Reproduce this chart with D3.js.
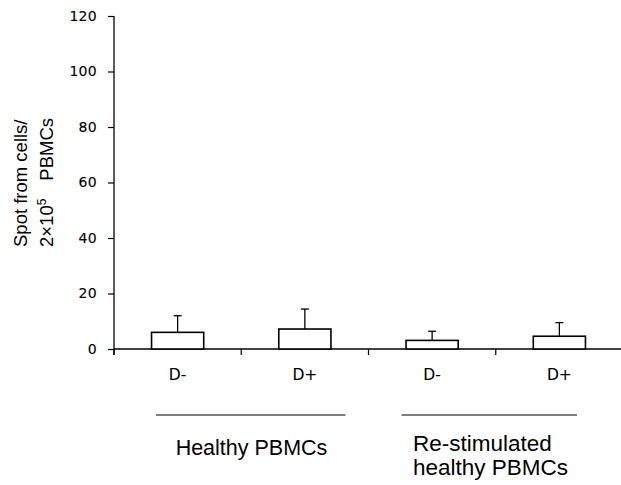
<!DOCTYPE html>
<html>
<head>
<meta charset="utf-8">
<script src="https://cdn.jsdelivr.net/npm/d3@7"></script>
<style>
  html, body { margin: 0; padding: 0; background: #fff; }
  svg { display: block; }
</style>
</head>
<body>
<svg id="chart" width="621" height="485"></svg>
<script>
const categories = ["D-", "D+", "D-", "D+"];
const means = [6.0, 7.2, 3.1, 4.6];
const errors = [6.0, 7.2, 3.3, 4.9];
const groups = ["Healthy PBMCs", "Re-stimulated healthy PBMCs"];
const yTicks = [0, 20, 40, 60, 80, 100, 120];

(function () {
const svg = d3.select("#chart");
const mLeft = 114, mRight = 623, mTop = 16, mBottom = 349;

const x = d3.scaleBand().domain(d3.range(categories.length)).range([mLeft, mRight]).padding(0);
const y = d3.scaleLinear().domain([0, 120]).range([mBottom, mTop]);
const barW = x.bandwidth() * 0.41;

// Y axis
const yAxis = d3.axisLeft(y).tickValues(yTicks).tickSize(6).tickPadding(11).tickSizeOuter(0);
const gy = svg.append("g").attr("transform", `translate(${mLeft},0)`).call(yAxis);
gy.attr("font-size", null).attr("font-family", null);
gy.select(".domain").attr("stroke", "#000").attr("stroke-width", 1.3).attr("d", `M0,${mTop}V${mBottom + 6}`);
gy.selectAll(".tick line").attr("stroke", "#000").attr("stroke-width", 1.2);
gy.selectAll(".tick text").attr("fill", "#000").attr("stroke", "#000").attr("stroke-width", 0.12)
  .style("font-family", "'DejaVu Sans', sans-serif").style("font-size", "14px").style("letter-spacing", "0.3px");

// X axis line and ticks at band boundaries
svg.append("line").attr("x1", mLeft).attr("x2", mRight).attr("y1", mBottom).attr("y2", mBottom)
  .attr("stroke", "#000").attr("stroke-width", 1.3);
svg.selectAll(".xtick").data(d3.range(categories.length)).enter().append("line")
  .attr("x1", d => x(d)).attr("x2", d => x(d)).attr("y1", mBottom).attr("y2", mBottom + 6)
  .attr("stroke", "#000").attr("stroke-width", 1.2);

// Bars
svg.selectAll(".bar").data(means).enter().append("rect")
  .attr("x", (d, i) => x(i) + x.bandwidth() / 2 - barW / 2)
  .attr("y", d => y(d))
  .attr("width", barW)
  .attr("height", d => y(0) - y(d))
  .attr("fill", "#fff").attr("stroke", "#000").attr("stroke-width", 1.6);

// Error bars (upper only)
means.forEach((m, i) => {
  const cx = x(i) + x.bandwidth() / 2;
  svg.append("line").attr("x1", cx).attr("x2", cx).attr("y1", y(m)).attr("y2", y(m + errors[i]))
    .attr("stroke", "#000").attr("stroke-width", 1.3);
  svg.append("line").attr("x1", cx - 4).attr("x2", cx + 4).attr("y1", y(m + errors[i])).attr("y2", y(m + errors[i]))
    .attr("stroke", "#000").attr("stroke-width", 1.3);
});

// Category labels
svg.selectAll(".cat").data(categories).enter().append("text")
  .attr("x", (d, i) => x(i) + x.bandwidth() / 2)
  .attr("y", 380)
  .attr("text-anchor", "middle")
  .attr("stroke", "#000").attr("stroke-width", 0.12)
  .style("font-family", "'DejaVu Sans', sans-serif").style("font-size", "15.5px").attr("fill", "#000")
  .text(d => d);

// Group lines
const lineY = 415;
svg.append("line").attr("x1", x(0) + 42).attr("x2", x(2) - 23).attr("y1", lineY).attr("y2", lineY)
  .attr("stroke", "#000").attr("stroke-width", 1.2);
svg.append("line").attr("x1", x(2) + 33).attr("x2", mRight - 46).attr("y1", lineY).attr("y2", lineY)
  .attr("stroke", "#000").attr("stroke-width", 1.2);

// Group labels
svg.append("text").attr("x", 251.5).attr("y", 455).attr("text-anchor", "middle")
  .style("font-family", "'Liberation Sans', Arial, sans-serif").style("font-size", "21.5px").attr("fill", "#000")
  .text(groups[0]);
const g2 = groups[1].split(" ");
const t2 = svg.append("text")
  .style("font-family", "'Liberation Sans', Arial, sans-serif").style("font-size", "22.5px").attr("fill", "#000");
t2.append("tspan").attr("x", 413).attr("y", 451).text(g2[0]);
t2.append("tspan").attr("x", 413).attr("y", 475).text(g2.slice(1).join(" "));

// Y axis label
const labFont = "'Liberation Sans', Arial, sans-serif";
svg.append("text").attr("transform", "translate(27,247) rotate(-90)")
  .style("font-family", labFont).style("font-size", "18.5px").attr("fill", "#000")
  .text("Spot from cells/");
const l2 = svg.append("text").attr("transform", "translate(53,247) rotate(-90)")
  .style("font-family", labFont).style("font-size", "18.5px").attr("fill", "#000");
l2.append("tspan").text("2×10");
l2.append("tspan").attr("dy", -7).style("font-size", "12px").text("5");
svg.append("text").attr("transform", "translate(53,118) rotate(-90)").attr("text-anchor", "end")
  .style("font-family", labFont).style("font-size", "18.5px").attr("fill", "#000")
  .text("PBMCs");
})();
</script>
</body>
</html>
